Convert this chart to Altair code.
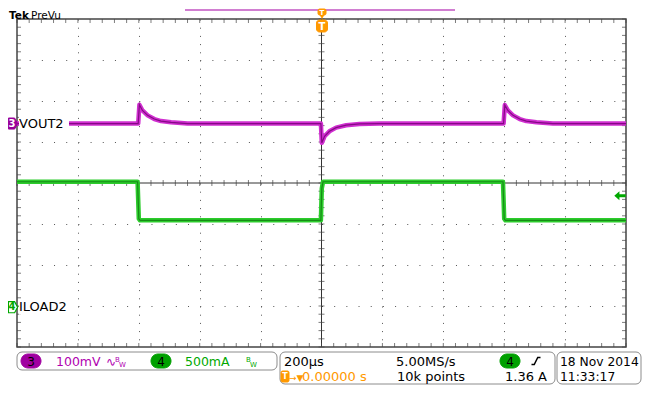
import altair as alt
import pandas as pd

# ---------------- values ----------------
# channel 3, VOUT2 (AC coupled, 100 mV/div): time in µs, deviation in mV
vout_t = [-1000, -602, -598, -588, -571, -549, -527, -494, -440, -2, 1, 10, 26, 48, 81, 125, 190,
          598, 602, 612, 629, 651, 673, 706, 760, 1000]
vout_mv = [0, 0, 46, 32, 20, 11, 6, 3, 0, 0, -47, -31, -19, -10, -4, -1, 0,
           0, 45, 32, 20, 11, 6, 3, 0, 0]
# channel 4, ILOAD2 (500 mA/div): time in µs, current in A
iload_t = [-1000, -604, -600, -596, -2, 1, 5, 596, 600, 604, 1000]
iload_a = [1.53, 1.53, 1.08, 1.06, 1.06, 1.45, 1.53, 1.53, 1.08, 1.06, 1.06]

# scope settings
ch3_per_div = 100.0     # mV / div
ch4_per_div = 0.5       # A / div
ch3_offset = 1.45       # divisions (ground marker position)
ch4_offset = -3.03
trigger_level = 1.36    # A
channel_names = ["VOUT2", "ILOAD2"]
x_major = [-800, -600, -400, -200, 200, 400, 600, 800]
y_major = [-3, -2, -1, 1, 2, 3]
x_minor = [-1000 + 40 * i for i in range(51)]
y_minor = [round(-4 + 0.2 * i, 2) for i in range(41)]

FONT = "DejaVu Sans"
PURPLE = "#b000b0"
GREEN = "#00a800"
ORANGE = "#ff9900"

vdf = pd.DataFrame({"t": vout_t, "div": [ch3_offset + v / ch3_per_div for v in vout_mv]})
idf = pd.DataFrame({"t": iload_t, "div": [ch4_offset + a / ch4_per_div for a in iload_a]})
one = pd.DataFrame({"k": [0]})

xs = alt.Scale(domain=[-1000, 1000], nice=False, zero=False)
ys = alt.Scale(domain=[-4, 4], nice=False, zero=False)
xax = alt.Axis(values=x_major, grid=True, gridDash=[1, 7.2], gridColor="#555", gridWidth=1,
               domain=False, ticks=False, labels=False, title=None)
yax = alt.Axis(values=y_major, grid=True, gridDash=[1, 11.18], gridColor="#555", gridWidth=1,
               domain=False, ticks=False, labels=False, title=None)
X = alt.X("t:Q", scale=xs, axis=xax)
Y = alt.Y("div:Q", scale=ys, axis=yax)

layers = []
# center cross
layers.append(alt.Chart(pd.DataFrame({"t": [0]})).mark_rule(color="#333", strokeWidth=1).encode(x=X))
layers.append(alt.Chart(pd.DataFrame({"div": [0]})).mark_rule(color="#333", strokeWidth=1).encode(y=Y))


def ticks(df, orient, size, **kw):
    return alt.Chart(df).mark_tick(orient=orient, size=size, thickness=1, color="#444", **kw).encode(x=X, y=Y)


layers.append(ticks(pd.DataFrame({"t": x_minor, "div": 4}), "vertical", 4, yOffset=2))
layers.append(ticks(pd.DataFrame({"t": x_minor, "div": -4}), "vertical", 4, yOffset=-2))
layers.append(ticks(pd.DataFrame({"t": x_minor, "div": 0}), "vertical", 6))
layers.append(ticks(pd.DataFrame({"t": -1000, "div": y_minor}), "horizontal", 4, xOffset=2))
layers.append(ticks(pd.DataFrame({"t": 1000, "div": y_minor}), "horizontal", 4, xOffset=-2))
layers.append(ticks(pd.DataFrame({"t": 0, "div": y_minor}), "horizontal", 6))

# traces
layers.append(alt.Chart(idf).mark_line(color="#2ccc2c", strokeWidth=4.5, strokeJoin="round").encode(x=X, y=Y))
layers.append(alt.Chart(idf).mark_line(color="#117a11", strokeWidth=1.2, opacity=0.8).encode(x=X, y=Y))
layers.append(alt.Chart(vdf).mark_line(color="#d02ed0", strokeWidth=4.5, strokeJoin="round").encode(x=X, y=Y))
layers.append(alt.Chart(vdf).mark_line(color="#700070", strokeWidth=1.2, opacity=0.8).encode(x=X, y=Y))

# channel labels with white backgrounds
lab = pd.DataFrame({"div": [ch3_offset, ch4_offset], "name": channel_names})
rect_path = "M-1,-0.3 L1,-0.3 L1,0.3 L-1,0.3 Z"
layers.append(alt.Chart(lab).mark_point(shape=rect_path, filled=True, color="white", opacity=1,
                                        size=2500).encode(x=alt.value(27), y=Y))
layers.append(alt.Chart(lab).mark_text(align="left", baseline="middle", fontSize=13, font=FONT,
                                       color="black").encode(x=alt.value(2), y=Y, text="name:N"))

# channel ground markers
pent = "M-0.7,-0.85 L0.25,-0.85 L0.7,0 L0.25,0.85 L-0.7,0.85 Z"
m3 = pd.DataFrame({"div": [ch3_offset]})
m4 = pd.DataFrame({"div": [ch4_offset]})
layers.append(alt.Chart(m3).mark_point(shape=pent, filled=True, fill="#990099", stroke="#990099",
                                       strokeWidth=1, size=169, opacity=1).encode(x=alt.value(-4), y=Y))
layers.append(alt.Chart(m3).mark_text(text="3", color="white", fontWeight="bold", fontSize=10, font=FONT,
                                      align="center", baseline="middle").encode(x=alt.value(-5), y=Y))
layers.append(alt.Chart(m4).mark_point(shape=pent, filled=True, fill="white", stroke=GREEN,
                                       strokeWidth=1.2, size=169, opacity=1).encode(x=alt.value(-4), y=Y))
layers.append(alt.Chart(m4).mark_text(text="4", color=GREEN, fontWeight="bold", fontSize=10, font=FONT,
                                      align="center", baseline="middle").encode(x=alt.value(-5), y=Y))

# trigger level arrow
arrow = "M-1,0 L-0.1,-0.8 L-0.1,-0.25 L1,-0.25 L1,0.25 L-0.1,0.25 L-0.1,0.8 Z"
tl = pd.DataFrame({"div": [ch4_offset + trigger_level / ch4_per_div]})
layers.append(alt.Chart(tl).mark_point(shape=arrow, filled=True, color=GREEN, opacity=1,
                                       size=130).encode(x=alt.value(603), y=Y))


def label(s, x, y, color="black", size=13, weight="normal", align="left", baseline="alphabetic"):
    return alt.Chart(one).mark_text(text=s, color=color, fontSize=size, fontWeight=weight, align=align,
                                    baseline=baseline, font=FONT).encode(x=alt.value(x), y=alt.value(y))


def box(x1, x2, y1, y2, fill="white", stroke="#8c8c8c", r=5, sw=1):
    return alt.Chart(one).mark_rect(fill=fill, stroke=stroke, strokeWidth=sw, cornerRadius=r).encode(
        x=alt.value(x1), x2=alt.value(x2), y=alt.value(y1), y2=alt.value(y2))


# header
layers.append(label("Tek", -8, -0.5, size=10.5, weight="bold"))
layers.append(label("PreVu", 14, -0.5, size=10.5))
layers.append(alt.Chart(one).mark_rule(color="#d17ed1", strokeWidth=2).encode(
    x=alt.value(168), x2=alt.value(438), y=alt.value(-9)))
layers.append(box(301, 309, -10, -4, fill=ORANGE, stroke=ORANGE, r=1.5))
layers.append(label("T", 305, -6.5, color="white", size=7, weight="bold", align="center", baseline="middle"))
layers.append(alt.Chart(one).mark_point(shape="triangle-down", filled=True, color=ORANGE, opacity=1,
                                        size=22).encode(x=alt.value(305), y=alt.value(-2)))
layers.append(box(299.5, 310.5, 1, 13, fill=ORANGE, stroke=ORANGE, r=3))
layers.append(label("T", 305, 7.5, color="white", size=10, weight="bold", align="center", baseline="middle"))

# status bar
layers.append(box(0, 260, 333, 351))
layers.append(box(4, 24, 335, 349, fill="#a000a0", stroke="#a000a0", r=7))
layers.append(label("3", 14, 342.5, size=12, align="center", baseline="middle"))
layers.append(label("100mV", 39, 347, color=PURPLE, size=12.5))
layers.append(label("∿", 89, 347, color=PURPLE, size=12))
layers.append(label("B", 98, 343, color=PURPLE, size=7))
layers.append(label("W", 102, 348, color=PURPLE, size=7))
layers.append(box(134, 154, 335, 349, fill="#00a000", stroke="#00a000", r=7))
layers.append(label("4", 144, 342.5, size=12, align="center", baseline="middle"))
layers.append(label("500mA", 168, 347, color=GREEN, size=12.5))
layers.append(label("B", 229, 343, color=GREEN, size=7))
layers.append(label("W", 233, 348, color=GREEN, size=7))

layers.append(box(263, 538, 333, 365))
layers.append(label("200µs", 267, 347))
layers.append(label("5.00MS/s", 379, 347))
layers.append(box(483, 503, 335, 349, fill="#00a000", stroke="#00a000", r=7))
layers.append(label("4", 493, 342.5, size=12, align="center", baseline="middle"))
edge = "M-0.9,0.7 L-0.35,0.7 L0.35,-0.7 L0.9,-0.7"
layers.append(alt.Chart(one).mark_point(shape=edge, filled=False, color="black", strokeWidth=1.5,
                                        opacity=1, size=100).encode(x=alt.value(519), y=alt.value(342)))
layers.append(box(264, 272, 352, 363, fill=ORANGE, stroke=ORANGE, r=1.5))
layers.append(label("T", 268, 357.5, color="white", size=8, weight="bold", align="center", baseline="middle"))
layers.append(label("→▼", 272, 362, color=ORANGE, size=9))
layers.append(label("0.00000 s", 285, 362, color=ORANGE))
layers.append(label("10k points", 380, 362))
layers.append(label("1.36 A", 530, 362, align="right"))

layers.append(box(540, 624, 333, 365))
layers.append(label("18 Nov 2014", 543, 347, size=12.3))
layers.append(label("11:33:17", 543, 362, size=12.3))

chart = alt.layer(*layers).properties(
    width=609, height=328, autosize="none",
    padding={"left": 9, "top": 11, "right": 16, "bottom": 39},
    background="white",
).configure_view(stroke="#444", strokeWidth=1.5)

chart.save("out.html", embed_options={"renderer": "svg", "actions": False})
